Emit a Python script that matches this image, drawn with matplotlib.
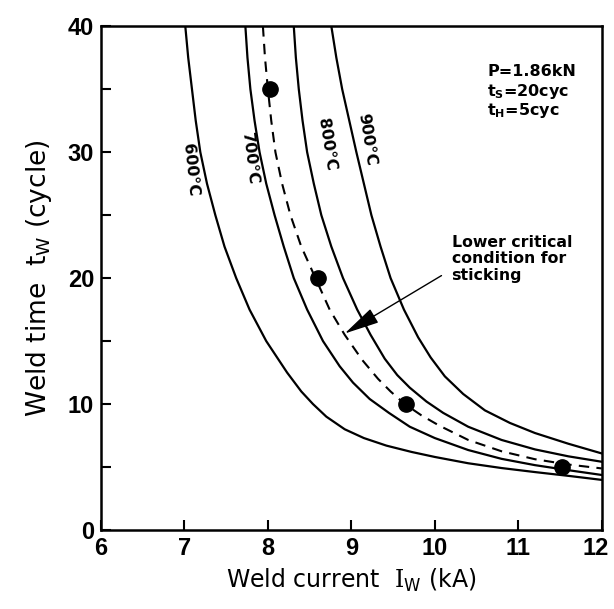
import matplotlib
matplotlib.use('Agg')
import matplotlib.pyplot as plt
import matplotlib.transforms as mtransforms

plt.rcParams['font.family'] = ['DejaVu Sans']
plt.rcParams['mathtext.fontset'] = 'custom'
plt.rcParams['mathtext.rm'] = 'DejaVu Serif'
plt.rcParams['mathtext.sf'] = 'DejaVu Sans'
plt.rcParams['mathtext.bf'] = 'DejaVu Sans:bold'

# curves: weld current (kA) vs weld time (cycle)
i_600 = [7.01, 7.045, 7.09, 7.135, 7.19, 7.27, 7.37, 7.48, 7.62, 7.78, 7.98, 8.23, 8.40, 8.54,
         8.70, 8.92, 9.15, 9.42, 9.72, 10.0, 10.4, 10.8, 11.2, 11.6, 12.0]
t_600 = [40, 37.5, 35, 32.5, 30, 27.5, 25, 22.5, 20, 17.5, 15, 12.5, 11, 10,
         9, 8, 7.3, 6.7, 6.2, 5.8, 5.3, 4.92, 4.6, 4.3, 3.98]

i_700 = [7.73, 7.755, 7.79, 7.84, 7.90, 7.98, 8.08, 8.19, 8.31, 8.47, 8.66, 8.86, 9.02,
         9.22, 9.45, 9.7, 10.0, 10.4, 10.8, 11.2, 11.6, 12.0]
t_700 = [40, 37.5, 35, 32.5, 30, 27.5, 25, 22.5, 20, 17.5, 15, 13, 11.7,
         10.4, 9.3, 8.2, 7.3, 6.35, 5.65, 5.15, 4.75, 4.37]

i_800 = [8.31, 8.335, 8.37, 8.415, 8.47, 8.55, 8.64, 8.76, 8.90, 9.07, 9.23, 9.40, 9.55,
         9.70, 9.90, 10.1, 10.4, 10.8, 11.2, 11.6, 12.0]
t_800 = [40, 37.5, 35, 32.5, 30, 27.5, 25, 22.5, 20, 17.5, 15.5, 13.6, 12.3,
         11.3, 10.2, 9.3, 8.2, 7.15, 6.4, 5.85, 5.42]

i_900 = [8.76, 8.82, 8.89, 8.975, 9.06, 9.15, 9.24, 9.35, 9.47, 9.63, 9.80, 9.95, 10.12,
         10.34, 10.6, 10.9, 11.2, 11.6, 12.0]
t_900 = [40, 37.5, 35, 32.5, 30, 27.5, 25, 22.5, 20, 17.5, 15.3, 13.7, 12.2,
         10.8, 9.5, 8.5, 7.7, 6.85, 6.08]

# lower critical condition for sticking (dashed)
i_crit = [7.94, 7.965, 8.0, 8.04, 8.09, 8.17, 8.27, 8.40, 8.57, 8.74, 8.92, 9.13, 9.32,
          9.47, 9.64, 9.84, 10.05, 10.4, 10.8, 11.2, 11.6, 12.0]
t_crit = [40, 37.5, 35, 32.5, 30, 27.5, 25, 22.5, 20, 17.5, 15.5, 13.5, 12,
          11, 10, 9.1, 8.3, 7.15, 6.25, 5.62, 5.2, 4.89]

# measured points
i_pts = [8.02, 8.6, 9.65, 11.52]
t_pts = [35, 20, 10, 5]

curve_labels = ['600°C', '700°C', '800°C', '900°C']
label_pos = [(7.07, 28.6), (7.78, 29.5), (8.70, 30.6), (9.18, 31.0)]
label_rot = [-84, -83, -81, -81]

fig = plt.figure(figsize=(6.14, 6.09), dpi=100)
ax = fig.add_axes([0.1645, 0.1297, 0.8155, 0.8273])

for xs, ys in [(i_600, t_600), (i_700, t_700), (i_800, t_800), (i_900, t_900)]:
    ax.plot(xs, ys, color='black', lw=1.6)
ax.plot(i_crit, t_crit, color='black', lw=1.5, dashes=(5, 3.5))
ax.plot(i_pts, t_pts, 'o', color='black', ms=11)

for txt, (x, y), r in zip(curve_labels, label_pos, label_rot):
    ax.text(x, y, txt, rotation=r, ha='center', va='center',
            fontsize=11.5, fontweight='bold')

ax.text(10.63, 36.4, 'P=1.86kN', fontsize=11.5, fontweight='bold', va='center')
ax.text(10.63, 34.8, r'$\mathbf{t_S}$=20cyc', fontsize=11.5, fontweight='bold', va='center')
ax.text(10.63, 33.3, r'$\mathbf{t_H}$=5cyc', fontsize=11.5, fontweight='bold', va='center')

ax.text(10.2, 23.4, 'Lower critical\ncondition for\nsticking', fontsize=11.3,
        fontweight='bold', va='top', ha='left', linespacing=1.1)
ax.annotate('', xy=(8.92, 15.6), xytext=(10.08, 20.2),
            arrowprops=dict(arrowstyle='-|>,head_length=2.2,head_width=0.5',
                            color='black', lw=1.0, shrinkA=0, shrinkB=0))

ax.set_xlim(6, 12)
ax.set_ylim(0, 40)
ax.set_xticks(range(6, 13))
ax.set_yticks([0, 10, 20, 30, 40])
ax.set_yticks([5, 15, 25, 35], minor=True)
ax.tick_params(direction='in', length=7, width=1.5, labelsize=17, pad=5)
ax.tick_params(which='minor', direction='in', length=7, width=1.5)
for lab in ax.get_xticklabels() + ax.get_yticklabels():
    lab.set_fontweight('bold')
    lab.set_fontfamily('Liberation Sans')
# keep the last x label inside the picture
last = ax.get_xticklabels()[-1]
last.set_transform(last.get_transform() +
                   mtransforms.ScaledTranslation(-4 / 72, 0, fig.dpi_scale_trans))
for s in ax.spines.values():
    s.set_linewidth(1.8)

ax.set_xlabel(r'Weld current  $\mathrm{I}_{\mathsf{W}}$ (kA)', fontsize=17, labelpad=5)
ax.set_ylabel(r'Weld time  $\mathsf{t_W}$ (cycle)', fontsize=19, labelpad=10)

fig.savefig('out.png', dpi=100)
